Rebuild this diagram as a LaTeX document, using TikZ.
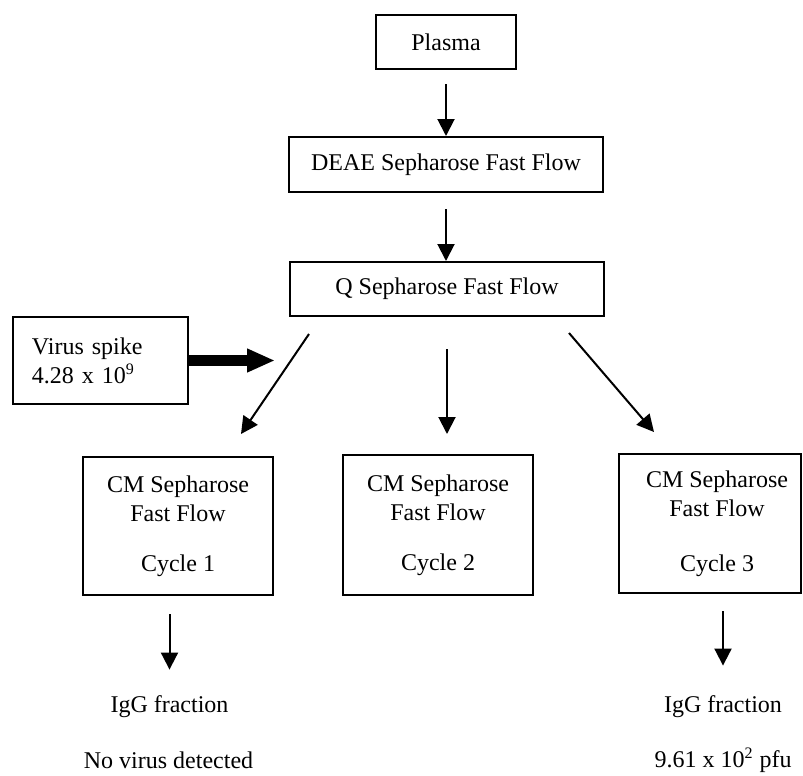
\documentclass[tikz,border=0pt]{standalone}
\usepackage{fontspec}
\setmainfont{Liberation Serif}
\usetikzlibrary{arrows.meta}
\tikzset{box/.style={rectangle, draw=black, line width=1pt, inner sep=0pt,
font=\fontsize{12}{14.5}\selectfont, align=center},
column/.style={box, minimum width=95pt, minimum height=69pt},
spikebox/.style={box, align=left, text width=68.5pt, inner xsep=9.5pt,
minimum height=43.5pt},
txt/.style={inner sep=0pt, font=\fontsize{12}{14.5}\selectfont},
flow/.style={line width=1pt, -{Triangle[width=8.5pt,length=8.5pt]}},
spike/.style={line width=5.5pt, -{Triangle[width=11pt,length=14pt]}}}

\begin{document}
\begin{tikzpicture}[x=0.5pt,y=-0.5pt]
  \useasboundingbox (0,0) rectangle (803,776);

  \node (plasma) [box, minimum width=70pt, minimum height=27pt] at (446,42) {Plasma};
  \node (deae) [box, minimum width=157pt, minimum height=27.5pt] at (446,164.5) {DEAE Sepharose Fast Flow};
  \node (q) [box, minimum width=157pt, minimum height=27pt] at (447,289) {Q Sepharose Fast Flow};
  \node (virus) [spikebox] at (100.5,360.5) {Virus spike\\4.28 x 10\textsuperscript{9}};
  \coordinate (spikein) at (275,360.5);

  \node (cm1) [column] at (178,526) {CM Sepharose\\Fast Flow\\[10.5pt]Cycle 1};
  \node (cm2) [column, minimum height=70pt] at (438,525) {CM Sepharose\\Fast Flow\\[10.5pt]Cycle 2};
  \node (cm3) [column, minimum width=91pt, minimum height=69.5pt] at (710,523.5) {};
  \node (cm3text) [box, draw=none] at (717,524) {CM Sepharose\\Fast Flow\\[13pt]Cycle 3};

  \node (igg1) [txt] at (169.5,707) {IgG fraction};
  \node (result1) [txt] at (168.5,760) {No virus detected};
  \node (igg3) [txt] at (723,707) {IgG fraction};
  \node (result3) [txt] at (723,760) {9.61 x 10\textsuperscript{2} pfu};

  \draw [flow, shorten <=7pt] (plasma.south) -- (deae.north);
  \draw [flow, shorten <=8pt] (deae.south) -- (deae.south |- q.north);
  \draw [spike] (virus.east) -- (spikein);
  \draw [flow] ([xshift=10pt,yshift=-8.5pt]q.south west) -- ([xshift=-16.5pt,yshift=11pt]cm1.north east);
  \draw [flow, shorten <=16pt, shorten >=10pt] (q.south) -- (q.south |- cm2.north);
  \draw [flow] ([xshift=-18pt,yshift=-8pt]q.south east) -- ([xshift=18pt,yshift=10.5pt]cm3.north west);
  \draw [flow, shorten <=9pt, shorten >=13pt] (igg1.north |- cm1.south) -- (igg1.north);
  \draw [flow, shorten <=8.5pt, shorten >=15pt] (igg3.north |- cm3.south) -- (igg3.north);
\end{tikzpicture}
\end{document}
